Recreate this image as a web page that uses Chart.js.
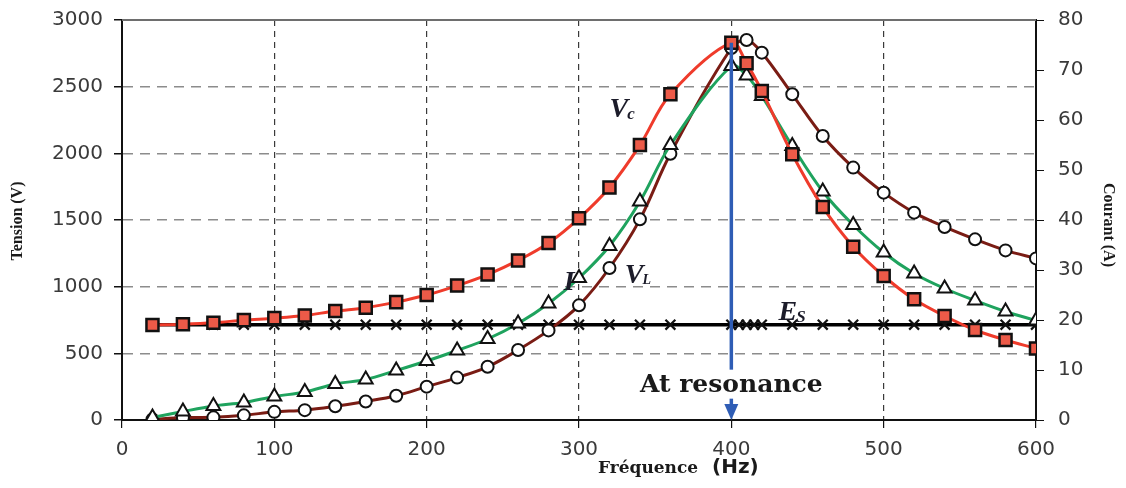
<!DOCTYPE html>
<html>
    <head>
        <meta charset="UTF-8">
        <title>Tension et courant en fonction de la fréquence</title>
        <style>
            html, body {
                margin: 0;
                padding: 0;
                background: #ffffff;
            }
        </style>
        <script src="https://cdn.jsdelivr.net/npm/chart.js"></script>
    </head>
    <body>
        <canvas id="resonanceChart" width="1126" height="488"></canvas>
        <script>
            // frequences (Hz) communes a Vc, VL et I
            const freq = [20, 40, 60, 80, 100, 120, 140, 160, 180, 200, 220, 240, 260, 280, 300,
                          320, 340, 360, 400, 410, 420, 440, 460, 480, 500, 520, 540, 560, 580, 600];
            // tension aux bornes du condensateur (V)
            const vc = [712, 718, 729, 749, 764, 784, 817, 842, 884, 937, 1008, 1091, 1197, 1328, 1513,
                        1744, 2062, 2443, 2830, 2675, 2468, 1993, 1598, 1300, 1080, 905, 780, 675, 600, 537];
            // tension aux bornes de la bobine (V)
            const vl = [5, 18, 20, 35, 61, 74, 103, 139, 182, 250, 318, 399, 525, 672, 860,
                        1140, 1505, 1997, 2790, 2850, 2755, 2443, 2130, 1893, 1705, 1555, 1448, 1355, 1272, 1212];
            // courant (A)
            const courant = [0.5, 1.7, 2.8, 3.5, 4.7, 5.6, 7.2, 8.1, 9.9, 11.8, 13.9, 16.2, 19.3, 23.3, 28.4,
                             34.8, 43.7, 55.0, 70.8, 68.9, 64.8, 54.8, 45.7, 39.0, 33.5, 29.3, 26.3, 23.9, 21.7, 19.9];
            // tension de la source (V)
            const freqEs = [20, 40, 60, 80, 100, 120, 140, 160, 180, 200, 220, 240, 260, 280, 300, 320, 340, 360,
                            400, 405, 410, 415, 420, 440, 460, 480, 500, 520, 540, 560, 580, 600];
            const es = [715, 715, 715, 715, 715, 715, 715, 715, 715, 715, 715, 715, 715, 715, 715, 715, 715, 715,
                        715, 715, 715, 715, 715, 715, 715, 715, 715, 715, 715, 715, 715, 715];

            const xTicks = [0, 100, 200, 300, 400, 500, 600];
            const tensionTicks = [0, 500, 1000, 1500, 2000, 2500, 3000];
            const courantTicks = [0, 10, 20, 30, 40, 50, 60, 70, 80];
            const resonance = 400;

            function pts(xs, ys) {
                return xs.map(function(f, i) { return {x: f, y: ys[i]}; });
            }
            function plain(v) { return String(v); }

            const tickFont = {family: "'DejaVu Sans'", size: 20};

            // textes, fleche bleue et cadre du haut
            const notes = {
                id: 'notes',
                beforeDatasetsDraw(chart) {
                    const ctx = chart.ctx;
                    const a = chart.chartArea;
                    ctx.save();
                    ctx.strokeStyle = '#6e6e6e';
                    ctx.lineWidth = 2;
                    ctx.beginPath();
                    ctx.moveTo(a.left, a.top);
                    ctx.lineTo(a.right, a.top);
                    ctx.stroke();
                    ctx.restore();
                },
                afterDatasetsDraw(chart) {
                    const ctx = chart.ctx;
                    const a = chart.chartArea;
                    const x = chart.scales.x;
                    const y = chart.scales.y;
                    ctx.save();

                    // fleche de resonance
                    const px = x.getPixelForValue(resonance);
                    const top = y.getPixelForValue(vc[freq.indexOf(resonance)]);
                    ctx.strokeStyle = '#2f5db5';
                    ctx.fillStyle = '#2f5db5';
                    ctx.lineWidth = 3.5;
                    ctx.beginPath();
                    ctx.moveTo(px, top);
                    ctx.lineTo(px, a.bottom - 14);
                    ctx.stroke();
                    ctx.beginPath();
                    ctx.moveTo(px - 7, a.bottom - 16);
                    ctx.lineTo(px + 7, a.bottom - 16);
                    ctx.lineTo(px, a.bottom);
                    ctx.closePath();
                    ctx.fill();

                    // At resonance
                    ctx.font = "bold 25px 'DejaVu Serif'";
                    ctx.textAlign = 'center';
                    ctx.textBaseline = 'middle';
                    const ty = y.getPixelForValue(265);
                    const w = ctx.measureText('At resonance').width;
                    ctx.fillStyle = '#ffffff';
                    ctx.fillRect(px - w / 2 - 2, ty - 15, w + 4, 29);
                    ctx.fillStyle = '#1a1a1a';
                    ctx.fillText('At resonance', px, ty + 1);

                    // noms des courbes
                    ctx.textAlign = 'left';
                    ctx.textBaseline = 'alphabetic';
                    ctx.fillStyle = '#1c1c2a';
                    function label(big, small, f, v, fs, dy) {
                        const lx = x.getPixelForValue(f);
                        const ly = y.getPixelForValue(v);
                        ctx.font = "italic bold 28px 'Liberation Serif'";
                        ctx.fillText(big, lx, ly);
                        if (small) {
                            const bw = ctx.measureText(big).width;
                            ctx.font = "italic bold " + fs + "px 'Liberation Serif'";
                            ctx.fillText(small, lx + bw - 1, ly + dy);
                        }
                    }
                    label('V', 'c', 320, 2270, 17, 2);
                    label('I', '', 290, 975, 0, 0);
                    label('V', 'L', 330, 1025, 14, 1);
                    label('E', 'S', 431, 750, 17, 2);

                    // titres des axes
                    ctx.fillStyle = '#1a1a1a';
                    ctx.textAlign = 'center';
                    ctx.textBaseline = 'middle';
                    ctx.font = "bold 16px 'Liberation Serif'";
                    ctx.save();
                    ctx.translate(18, 221);
                    ctx.rotate(-Math.PI / 2);
                    ctx.fillText('Tension (V)', 0, 0);
                    ctx.restore();
                    ctx.save();
                    ctx.translate(1108, 225);
                    ctx.rotate(Math.PI / 2);
                    ctx.fillText('Courant (A)', 0, 0);
                    ctx.restore();

                    ctx.textAlign = 'left';
                    ctx.font = "bold 17px 'DejaVu Serif'";
                    ctx.fillText('Fréquence', 598, 469);
                    ctx.font = "bold 20px 'DejaVu Sans'";
                    ctx.fillText('(Hz)', 712, 468);
                    ctx.restore();
                }
            };

            const ctx = document.getElementById('resonanceChart').getContext('2d');
            const resonanceChart = new Chart(ctx, {
                type: 'line',
                data: {
                    datasets: [{
                        label: 'Vc',
                        data: pts(freq, vc),
                        yAxisID: 'y',
                        borderColor: '#ef3b2b',
                        borderWidth: 3,
                        tension: 0.35,
                        pointStyle: 'rect',
                        pointRadius: 8.5,
                        pointBackgroundColor: '#ec5a48',
                        pointBorderColor: '#111111',
                        pointBorderWidth: 2.5
                    },
                    {
                        label: 'I',
                        data: pts(freq, courant),
                        yAxisID: 'y1',
                        borderColor: '#1fa35e',
                        borderWidth: 3,
                        tension: 0.35,
                        pointStyle: 'triangle',
                        pointRadius: 8,
                        pointBackgroundColor: '#ffffff',
                        pointBorderColor: '#111111',
                        pointBorderWidth: 2
                    },
                    {
                        label: 'VL',
                        data: pts(freq, vl),
                        yAxisID: 'y',
                        borderColor: '#7a1c14',
                        borderWidth: 3,
                        tension: 0.35,
                        pointStyle: 'circle',
                        pointRadius: 6,
                        pointBackgroundColor: '#ffffff',
                        pointBorderColor: '#111111',
                        pointBorderWidth: 2
                    },
                    {
                        label: 'Es',
                        data: pts(freqEs, es),
                        yAxisID: 'y',
                        borderColor: '#000000',
                        borderWidth: 3.5,
                        tension: 0,
                        pointStyle: 'crossRot',
                        pointRadius: 7,
                        pointBorderColor: '#111111',
                        pointBorderWidth: 2.2
                    }]
                },
                options: {
                    responsive: false,
                    animation: false,
                    devicePixelRatio: 1,
                    layout: {padding: {top: 20, left: 0, right: 0, bottom: 0}},
                    plugins: {
                        legend: {display: false},
                        tooltip: {enabled: false}
                    },
                    scales: {
                        x: {
                            type: 'linear',
                            min: 0,
                            max: 600,
                            afterFit: function(s) { s.height = 68; },
                            afterBuildTicks: function(s) { s.ticks = xTicks.map(function(v) { return {value: v}; }); },
                            grid: {color: '#3a3a3a', lineWidth: 1.2, tickLength: 8, tickColor: '#111111'},
                            border: {display: true, color: '#111111', width: 2, dash: [6, 5]},
                            ticks: {color: '#3a3a3a', font: tickFont, padding: 10, maxRotation: 0, callback: plain}
                        },
                        y: {
                            position: 'left',
                            min: 0,
                            max: 3000,
                            afterFit: function(s) { s.width = 122; s.paddingTop = 0; s.paddingBottom = 0; },
                            afterBuildTicks: function(s) { s.ticks = tensionTicks.map(function(v) { return {value: v}; }); },
                            grid: {color: '#8c8c8c', lineWidth: 1.5, tickLength: 8, tickColor: '#111111'},
                            border: {display: true, color: '#111111', width: 2, dash: [10, 7]},
                            ticks: {color: '#3a3a3a', font: tickFont, padding: 11, callback: plain}
                        },
                        y1: {
                            position: 'right',
                            min: 0,
                            max: 80,
                            afterFit: function(s) { s.width = 90; s.paddingTop = 0; s.paddingBottom = 0; },
                            afterBuildTicks: function(s) { s.ticks = courantTicks.map(function(v) { return {value: v}; }); },
                            grid: {drawOnChartArea: false, tickLength: 8, tickColor: '#111111'},
                            border: {display: true, color: '#111111', width: 2},
                            ticks: {color: '#3a3a3a', font: tickFont, padding: 14, callback: plain}
                        }
                    }
                },
                plugins: [notes]
            });
        </script>
    </body>
</html>
